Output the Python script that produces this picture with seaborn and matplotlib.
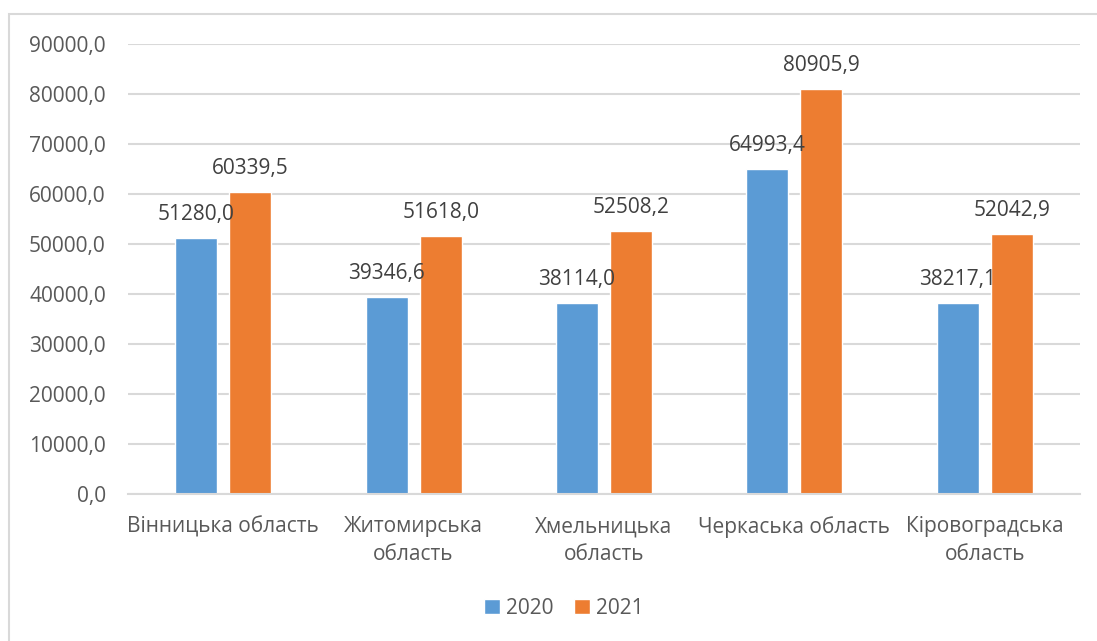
import seaborn as sns
import pandas as pd
import matplotlib.pyplot as plt
from matplotlib.patches import Rectangle

regions = ['Вінницька область', 'Житомирська\nобласть', 'Хмельницька\nобласть',
           'Черкаська область', 'Кіровоградська\nобласть']
years = ['2020', '2021']
values_2020 = [51280.0, 39346.6, 38114.0, 64993.4, 38217.1]
values_2021 = [60339.5, 51618.0, 52508.2, 80905.9, 52042.9]

df = pd.DataFrame({
    'region': regions * 2,
    'year': [years[0]] * len(regions) + [years[1]] * len(regions),
    'value': values_2020 + values_2021,
})

sns.set_style('white')
plt.rcParams['font.family'] = ['Open Sans', 'DejaVu Sans']

fig = plt.figure(figsize=(10.97, 6.41), dpi=100)
ax = fig.add_axes([128 / 1097, 147 / 641, 952 / 1097, 450 / 641])

# chart border like the Excel chart area
fig.patches.append(Rectangle((9 / 1097, -0.1), 1.2, 1.1 - 14 / 641, transform=fig.transFigure,
                             fill=False, edgecolor='#d9d9d9', linewidth=1.5))

sns.barplot(data=df, x='region', y='value', hue='year', palette=['#5B9BD5', '#ED7D31'],
            saturation=1, width=0.568, gap=0.225, ax=ax, legend=True)

for cont in ax.containers:
    for bar in cont:
        h = bar.get_height()
        ax.annotate(f'{h:.1f}'.replace('.', ','), (bar.get_x() + bar.get_width() / 2, h),
                    xytext=(0, 13), textcoords='offset points', ha='center', va='baseline',
                    fontsize=15, color='#404040')

ax.set_ylim(0, 90000)
ax.set_xlim(-0.5, 4.5)
ax.set_yticks(range(0, 90001, 10000))
ax.set_yticklabels([f'{v},0' for v in range(0, 90001, 10000)])
ax.yaxis.grid(True, color='#d9d9d9', linewidth=1.5)
ax.set_axisbelow(True)
for s in ['top', 'right', 'left']:
    ax.spines[s].set_visible(False)
ax.spines['bottom'].set_color('#d9d9d9')
ax.spines['bottom'].set_linewidth(1.5)
ax.tick_params(axis='y', length=0, pad=16, labelsize=15, labelcolor='#595959')
ax.tick_params(axis='x', length=0, pad=16, labelsize=15, labelcolor='#595959')
for t in ax.get_xticklabels():
    t.set_linespacing(1.45)
ax.set_xlabel('')
ax.set_ylabel('')

handles, labels = ax.get_legend_handles_labels()
ax.get_legend().remove()
fig.legend(handles, labels, loc='center', bbox_to_anchor=(564 / 1097, 1 - 608 / 641), ncol=2,
           frameon=False, fontsize=15, labelcolor='#595959', handlelength=0.75, handleheight=0.75,
           handletextpad=0.3, columnspacing=1.0)

plt.savefig('out.png', dpi=100)
plt.close()
